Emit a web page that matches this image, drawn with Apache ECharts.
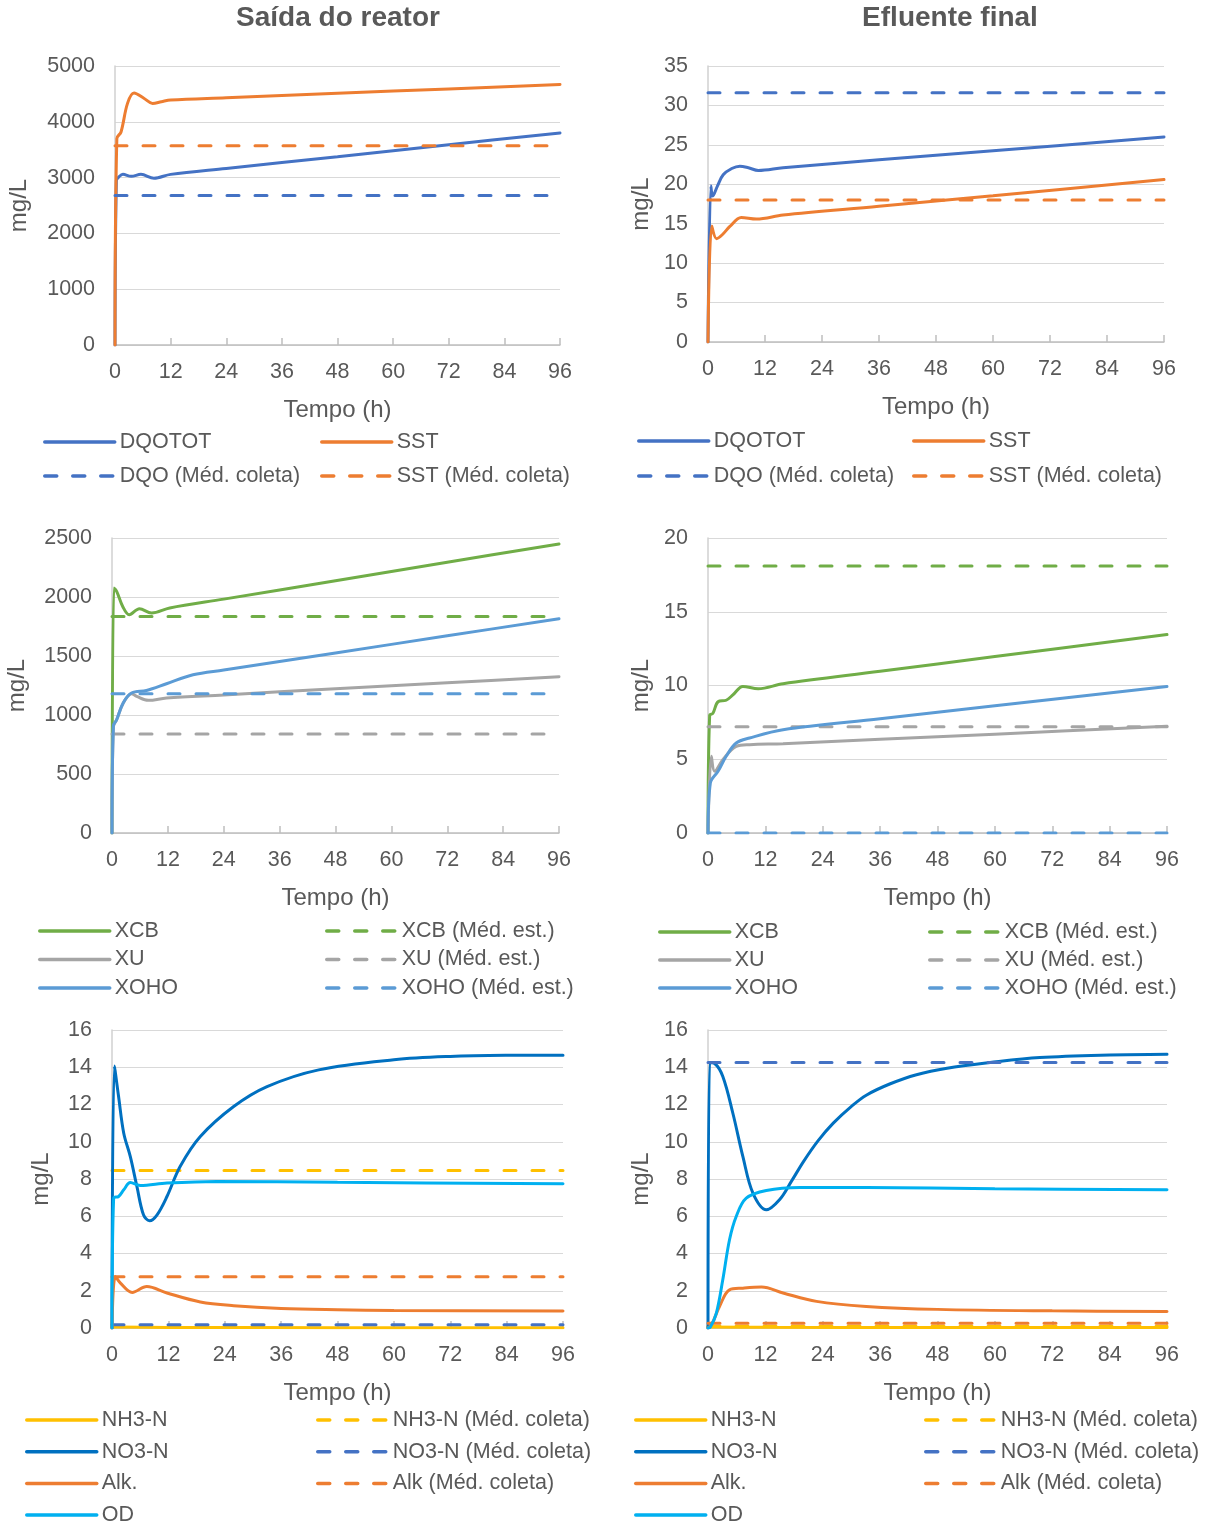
<!DOCTYPE html>
<html>
<head>
<meta charset="utf-8">
<script src="https://cdn.jsdelivr.net/npm/echarts@6/dist/echarts.min.js"></script>
<style>
  html, body { margin: 0; padding: 0; background: #ffffff; }
  #chart { width: 1208px; height: 1524px; }
</style>
</head>
<body>
<div id="chart"></div>
<script>
// ---------- data: time in hours, concentrations in mg/L ----------
const timeMax = 96;
const timeStep = 12;

// Saída do reator — DQO / SST
const reaDqoT   = [0, 0.3, 0.8, 1.7, 3.5, 5.6, 8.4, 12, 24, 48, 72, 96];
const reaDqoV   = [0, 2950, 3010, 3058, 3022, 3058, 2990, 3058, 3165, 3375, 3590, 3800];
const reaSstT   = [0, 0.4, 1.3, 2.7, 4.1, 6.3, 8.1, 10, 12, 24, 48, 72, 96];
const reaSstV   = [0, 3700, 3818, 4330, 4514, 4418, 4330, 4360, 4390, 4430, 4510, 4590, 4670];
const reaDqoMed = 2680;
const reaSstMed = 3570;

// Efluente final — DQO / SST
const effDqoT   = [0, 0.6, 1.0, 2, 3.2, 5, 6.7, 8.5, 10.6, 15.8, 36, 60, 96];
const effDqoV   = [0, 19.8, 18.5, 19.8, 21.2, 22.0, 22.3, 22.1, 21.75, 22.1, 23.1, 24.25, 26.0];
const effSstT   = [0, 0.8, 1.8, 3, 4.6, 7, 10.2, 15.8, 36, 60, 96];
const effSstV   = [0, 14.7, 13.1, 13.6, 14.65, 15.8, 15.6, 16.1, 17.2, 18.55, 20.6];
const effDqoMed = 31.6;
const effSstMed = 18.0;

// Saída do reator — frações particuladas
const reaXcbT   = [0, 0.4, 1, 2.3, 3.7, 5.9, 8.5, 12.4, 24, 48, 72, 96];
const reaXcbV   = [0, 2077, 2048, 1920, 1850, 1901, 1864, 1907, 1982, 2138, 2294, 2450];
const reaXuT    = [0, 0.3, 1, 2.4, 4.2, 5.3, 7.8, 11.7, 24, 48, 72, 96];
const reaXuV    = [0, 900, 960, 1100, 1180, 1158, 1124, 1144, 1170, 1222, 1273, 1325];
const reaXohoT  = [0, 0.3, 1, 2.4, 4.2, 7.4, 11.7, 17.4, 24, 48, 72, 96];
const reaXohoV  = [0, 909, 960, 1102, 1186, 1208, 1265, 1341, 1381, 1526, 1671, 1816];
const reaXcbMed  = 1835;
const reaXuMed   = 840;
const reaXohoMed = 1180;

// Efluente final — frações particuladas
const effXcbT   = [0, 0.35, 1.0, 2.1, 3.8, 5.2, 7.3, 10.5, 15.7, 36, 60, 96];
const effXcbV   = [0, 8.0, 8.1, 8.9, 9.0, 9.36, 9.94, 9.78, 10.12, 10.96, 11.96, 13.45];
const effXuT    = [0, 0.7, 1.4, 3.1, 5.9, 8.7, 15.7, 36, 60, 96];
const effXuV    = [0, 5.2, 4.18, 4.97, 5.87, 5.99, 6.05, 6.35, 6.70, 7.23];
const effXohoT  = [0, 0.5, 2.1, 3.8, 5.9, 8.7, 15.7, 36, 60, 96];
const effXohoV  = [0, 3.4, 4.18, 5.2, 6.1, 6.44, 7.0, 7.74, 8.62, 9.94];
const effXcbMed  = 18.1;
const effXuMed   = 7.2;
const effXohoMed = 0.0;

// Saída do reator — nitrogênio, alcalinidade, OD
const reaNh3T   = [0, 12, 48, 96];
const reaNh3V   = [0.05, 0.03, 0.02, 0.02];
const reaNo3T   = [0, 0.5, 1.4, 2.5, 3.9, 5.3, 6.7, 8.0, 9.6, 11.7, 14.5, 18.8, 25.9, 33, 44, 60, 72, 84, 96];
const reaNo3V   = [0, 14.07, 12.43, 10.46, 9.2, 7.6, 6.08, 5.76, 6.08, 7.06, 8.67, 10.28, 11.89, 12.96, 13.86, 14.4, 14.58, 14.64, 14.65];
const reaAlkT   = [0, 0.7, 1.8, 4.3, 7.4, 11.7, 18.8, 25.9, 36, 48, 60, 96];
const reaAlkV   = [0, 2.77, 2.41, 1.91, 2.23, 1.88, 1.4, 1.2, 1.05, 0.98, 0.94, 0.91];
const reaOdT    = [0, 0.35, 1.4, 2.5, 3.9, 6, 11.7, 22.3, 48, 96];
const reaOdV    = [0, 6.97, 7.06, 7.42, 7.81, 7.65, 7.78, 7.87, 7.82, 7.74];
const reaNh3Med = 8.45;
const reaNo3Med = 0.18;
const reaAlkMed = 2.75;

// Efluente final — nitrogênio, alcalinidade, OD
const effNh3T   = [0, 12, 48, 96];
const effNh3V   = [0.05, 0.04, 0.03, 0.03];
const effNo3T   = [0, 0.35, 1.4, 3.1, 5.2, 7.3, 9.4, 12.2, 15, 17.5, 20, 23, 26.2, 30, 33.1, 38, 43.6, 50, 59, 69.4, 84, 96];
const effNo3V   = [0, 14.25, 14.2, 13.5, 11.53, 9.2, 7.24, 6.35, 6.9, 7.9, 8.95, 10.05, 11.0, 11.9, 12.5, 13.1, 13.6, 13.95, 14.25, 14.52, 14.66, 14.7];
const effAlkT   = [0, 0.8, 2.4, 4.5, 7.3, 11.2, 15.7, 22.7, 33.1, 48, 72, 96];
const effAlkV   = [0, 0.2, 1.15, 2.05, 2.14, 2.2, 1.88, 1.43, 1.16, 1.0, 0.92, 0.89];
const effOdT    = [0, 0.5, 1.75, 3.1, 4.5, 5.9, 8, 12.2, 19.2, 33.1, 60, 96];
const effOdV    = [0, 0.05, 0.8, 2.6, 4.74, 5.99, 6.97, 7.38, 7.54, 7.54, 7.48, 7.42];
const effNh3Med = 0.1;
const effNo3Med = 14.25;
const effAlkMed = 0.25;

// y-axis ranges per panel
const yMax      = [5000, 35, 2500, 20, 16, 16];
const yStep     = [1000, 5, 500, 5, 2, 2];

// ---------- styling ----------
const TEXT = '#595959';
const FONT = "'Liberation Sans', Arial, sans-serif";
const C = {
  dqo: '#4472C4', sst: '#ED7D31', xcb: '#70AD47', xu: '#A5A5A5', xoho: '#5B9BD5',
  nh3: '#FFC000', no3: '#0070C0', no3m: '#4472C4', alk: '#ED7D31', od: '#00B0F0'
};
const DASH = [12, 16];

// panel geometry: plot box and offsets of the axis names
const panels = [
  { left: 115, top: 66,   width: 445, height: 279, yGap: 84 },
  { left: 708, top: 66,   width: 456, height: 276, yGap: 55 },
  { left: 112, top: 538,  width: 447, height: 295, yGap: 83 },
  { left: 708, top: 538,  width: 459, height: 295, yGap: 55 },
  { left: 112, top: 1030, width: 451, height: 298, yGap: 59 },
  { left: 708, top: 1030, width: 459, height: 298, yGap: 55 }
];

const pairs = (t, v) => t.map((x, i) => [x, v[i]]);
const level = v => [[0, v], [timeMax, v]];

const series = [];
function add(k, name, color, data, dashed) {
  series.push({
    name, type: 'line', xAxisIndex: k, yAxisIndex: k,
    data, smooth: dashed ? false : 0.35, symbol: 'none', silent: true,
    lineStyle: { color, width: 3, type: dashed ? DASH : 'solid', cap: 'round' },
    itemStyle: { color },
    emphasis: { disabled: true }
  });
}

// panel 0
add(0, 'DQOTOT', C.dqo, pairs(reaDqoT, reaDqoV));
add(0, 'SST', C.sst, pairs(reaSstT, reaSstV));
add(0, 'DQO (Méd. coleta)', C.dqo, level(reaDqoMed), true);
add(0, 'SST (Méd. coleta)', C.sst, level(reaSstMed), true);
// panel 1
add(1, 'DQOTOT', C.dqo, pairs(effDqoT, effDqoV));
add(1, 'SST', C.sst, pairs(effSstT, effSstV));
add(1, 'DQO (Méd. coleta)', C.dqo, level(effDqoMed), true);
add(1, 'SST (Méd. coleta)', C.sst, level(effSstMed), true);
// panel 2
add(2, 'XCB', C.xcb, pairs(reaXcbT, reaXcbV));
add(2, 'XCB (Méd. est.)', C.xcb, level(reaXcbMed), true);
add(2, 'XU', C.xu, pairs(reaXuT, reaXuV));
add(2, 'XU (Méd. est.)', C.xu, level(reaXuMed), true);
add(2, 'XOHO', C.xoho, pairs(reaXohoT, reaXohoV));
add(2, 'XOHO (Méd. est.)', C.xoho, level(reaXohoMed), true);
// panel 3
add(3, 'XCB', C.xcb, pairs(effXcbT, effXcbV));
add(3, 'XCB (Méd. est.)', C.xcb, level(effXcbMed), true);
add(3, 'XU', C.xu, pairs(effXuT, effXuV));
add(3, 'XU (Méd. est.)', C.xu, level(effXuMed), true);
add(3, 'XOHO', C.xoho, pairs(effXohoT, effXohoV));
add(3, 'XOHO (Méd. est.)', C.xoho, level(effXohoMed), true);
// panel 4
add(4, 'NH3-N', C.nh3, pairs(reaNh3T, reaNh3V));
add(4, 'NH3-N (Méd. coleta)', C.nh3, level(reaNh3Med), true);
add(4, 'NO3-N', C.no3, pairs(reaNo3T, reaNo3V));
add(4, 'NO3-N (Méd. coleta)', C.no3m, level(reaNo3Med), true);
add(4, 'Alk.', C.alk, pairs(reaAlkT, reaAlkV));
add(4, 'Alk (Méd. coleta)', C.alk, level(reaAlkMed), true);
add(4, 'OD', C.od, pairs(reaOdT, reaOdV));
// panel 5
add(5, 'NH3-N', C.nh3, pairs(effNh3T, effNh3V));
add(5, 'NH3-N (Méd. coleta)', C.nh3, level(effNh3Med), true);
add(5, 'NO3-N', C.no3, pairs(effNo3T, effNo3V));
add(5, 'NO3-N (Méd. coleta)', C.no3m, level(effNo3Med), true);
add(5, 'Alk.', C.alk, pairs(effAlkT, effAlkV));
add(5, 'Alk (Méd. coleta)', C.alk, level(effAlkMed), true);
add(5, 'OD', C.od, pairs(effOdT, effOdV));

const grids = panels.map(p => ({ left: p.left, top: p.top, width: p.width, height: p.height, containLabel: false }));

const xAxes = panels.map((p, k) => ({
  type: 'value', gridIndex: k, min: 0, max: timeMax, interval: timeStep,
  name: 'Tempo (h)', nameLocation: 'middle', nameGap: 53,
  nameTextStyle: { color: TEXT, fontSize: 24, fontFamily: FONT },
  axisLine: { show: true, lineStyle: { color: '#BFBFBF', width: 1.5 } },
  axisTick: { show: true, inside: true, length: 7, lineStyle: { color: '#BFBFBF', width: 1.5 } },
  axisLabel: { color: TEXT, fontSize: 21.5, fontFamily: FONT, margin: 16 },
  splitLine: { show: false }
}));

const yAxes = panels.map((p, k) => ({
  type: 'value', gridIndex: k, min: 0, max: yMax[k], interval: yStep[k],
  name: 'mg/L', nameLocation: 'middle', nameGap: p.yGap,
  nameTextStyle: { color: TEXT, fontSize: 24, fontFamily: FONT },
  axisLine: { show: true, lineStyle: { color: '#D0D0D0', width: 1.5 } },
  axisTick: { show: false },
  axisLabel: { color: TEXT, fontSize: 21.5, fontFamily: FONT, margin: 20, formatter: v => String(v) },
  splitLine: { show: true, lineStyle: { color: '#D9D9D9', width: 1 } }
}));

// two-column legends under each panel
function legend(left, firstRow, spacing, names) {
  return {
    orient: 'vertical', left, top: firstRow - 9, height: 160, padding: 0,
    itemWidth: 70, itemHeight: 14, itemGap: spacing - 22,
    selectedMode: false,
    itemStyle: { opacity: 0 },
    lineStyle: { width: 3.5, cap: 'round' },
    textStyle: { color: TEXT, fontSize: 21.5, fontFamily: FONT, lineHeight: 22 },
    data: names
  };
}
const legends = [
  legend(43, 440, 34, ['DQOTOT', 'DQO (Méd. coleta)']),
  legend(320, 440, 34, ['SST', 'SST (Méd. coleta)']),
  legend(637, 439, 35, ['DQOTOT', 'DQO (Méd. coleta)']),
  legend(912, 439, 35, ['SST', 'SST (Méd. coleta)']),
  legend(38, 929, 28.5, ['XCB', 'XU', 'XOHO']),
  legend(325, 929, 28.5, ['XCB (Méd. est.)', 'XU (Méd. est.)', 'XOHO (Méd. est.)']),
  legend(658, 930, 28, ['XCB', 'XU', 'XOHO']),
  legend(928, 930, 28, ['XCB (Méd. est.)', 'XU (Méd. est.)', 'XOHO (Méd. est.)']),
  legend(25, 1418, 31.7, ['NH3-N', 'NO3-N', 'Alk.', 'OD']),
  legend(316, 1418, 31.7, ['NH3-N (Méd. coleta)', 'NO3-N (Méd. coleta)', 'Alk (Méd. coleta)']),
  legend(634, 1418, 31.7, ['NH3-N', 'NO3-N', 'Alk.', 'OD']),
  legend(924, 1418, 31.7, ['NH3-N (Méd. coleta)', 'NO3-N (Méd. coleta)', 'Alk (Méd. coleta)'])
];

const chart = echarts.init(document.getElementById('chart'), null, { renderer: 'canvas' });
chart.setOption({
  backgroundColor: '#ffffff',
  animation: false,
  textStyle: { fontFamily: FONT },
  graphic: [
    { type: 'text', x: 338, y: 18, style: { text: 'Saída do reator', textAlign: 'center', textVerticalAlign: 'middle', fill: TEXT, font: "bold 28px 'Liberation Sans', Arial, sans-serif" } },
    { type: 'text', x: 950, y: 18, style: { text: 'Efluente final', textAlign: 'center', textVerticalAlign: 'middle', fill: TEXT, font: "bold 28px 'Liberation Sans', Arial, sans-serif" } }
  ],
  grid: grids,
  xAxis: xAxes,
  yAxis: yAxes,
  legend: legends,
  series
});
</script>
</body>
</html>
